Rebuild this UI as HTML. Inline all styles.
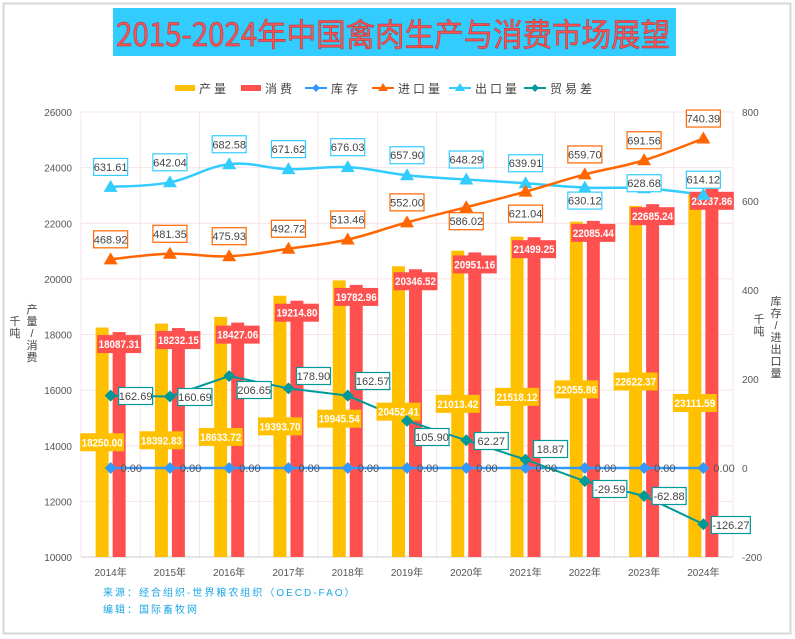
<!DOCTYPE html>
<html><head><meta charset="utf-8"><style>
html,body{margin:0;padding:0;background:#fff;}
svg{display:block;font-family:"Liberation Sans","Noto Sans CJK SC",sans-serif;}
</style></head><body>
<svg id="s" width="795" height="639" viewBox="0 0 795 639" xmlns="http://www.w3.org/2000/svg">
<rect x="3.5" y="3.5" width="787" height="630" fill="#fff" stroke="#d8d8d8" stroke-width="2"/>
<rect x="113" y="8" width="563" height="48" fill="#33ccff"/>
<text x="116" y="46" font-size="32" font-family="Liberation Sans Narrow,'Noto Sans CJK SC',sans-serif" fill="#ff5252" stroke="#b03030" stroke-width="0.5" textLength="554" lengthAdjust="spacingAndGlyphs">2015-2024年中国禽肉生产与消费市场展望</text>
<g id="g"></g>
</svg>
<script>
var g=document.getElementById('g'),h='';
var L=81,R=733,T=112,B=557,cw=(R-L)/11;
function yl(v){return B-(v-10000)*(B-T)/16000;}
function yr(v){return 468-v*0.445;}
function cx(i){return L+cw*(i+0.5);}
for(var k=0;k<=8;k++){var y=B-k*(B-T)/8;h+='<line x1="'+L+'" x2="'+R+'" y1="'+y+'" y2="'+y+'" stroke="#f5e4e8"/>';
h+='<text x="72" y="'+(y+4)+'" font-size="10" fill="#555" text-anchor="end">'+(10000+k*2000)+'</text>';}
for(var k=0;k<=11;k++){var x=L+k*cw;h+='<line x1="'+x+'" x2="'+x+'" y1="'+T+'" y2="'+B+'" stroke="#f5e4e8"/>';}
var rv=[800,600,400,200,0,-200];
rv.forEach(function(v){h+='<text x="742" y="'+(yr(v)+4)+'" font-size="10" fill="#555">'+v+'</text>';});
h+='<line x1="'+L+'" x2="'+R+'" y1="'+B+'" y2="'+B+'" stroke="#ccc"/>';
var P=[18250.00,18392.83,18633.72,19393.70,19945.54,20452.41,21013.42,21518.12,22055.86,22622.37,23111.59];
var C=[18087.31,18232.15,18427.06,19214.80,19782.96,20346.52,20951.16,21499.25,22085.44,22685.24,23237.86];
var E=[631.61,642.04,682.58,671.62,676.03,657.90,648.29,639.91,630.12,628.68,614.12];
var I=[468.92,481.35,475.93,492.72,513.46,552.00,586.02,621.04,659.70,691.56,740.39];
var D=[162.69,160.69,206.65,178.90,162.57,105.90,62.27,18.87,-29.59,-62.88,-126.27];
var Dy=[396,397,390,376,381,437,441,449,489,496,525];
var Eo=[-20,-20,-20,-20,-20,-20,-20,-20,13,-5,-15];
var Io=[-20,-20,-20,-20,-20,-20,14,22,-20,-20,-20];
for(var i=0;i<11;i++){
 var c=cx(i),yp=yl(P[i]),yc=yl(C[i]);
 h+='<rect x="'+(c-15)+'" y="'+yp+'" width="13" height="'+(B-yp)+'" fill="#ffc000"/>';
 h+='<rect x="'+(c+2)+'" y="'+yc+'" width="13" height="'+(B-yc)+'" fill="#ff5050"/>';
 h+='<text x="'+c+'" y="'+(B+19)+'" font-size="10" fill="#555" text-anchor="middle">'+(2014+i)+'年</text>';
}
function smooth(pts){var d='M'+pts[0][0]+','+pts[0][1];for(var i=0;i<pts.length-1;i++){var p0=pts[i-1]||pts[i],p1=pts[i],p2=pts[i+1],p3=pts[i+2]||p2,t=0.2;
d+=' C'+(p1[0]+(p2[0]-p0[0])*t)+','+(p1[1]+(p2[1]-p0[1])*t)+' '+(p2[0]-(p3[0]-p1[0])*t)+','+(p2[1]-(p3[1]-p1[1])*t)+' '+p2[0]+','+p2[1];}return d;}
function pts(a){return a.map(function(v,i){return [cx(i),yr(v)];});}
var pe=pts(E),pi=pts(I),pd=pts(D);
h+='<line x1="'+cx(0)+'" x2="'+cx(10)+'" y1="468" y2="468" stroke="#3399ff" stroke-width="2.5"/>';
h+='<path d="'+smooth(pe)+'" fill="none" stroke="#33ccff" stroke-width="2.5"/>';
h+='<path d="'+smooth(pi)+'" fill="none" stroke="#ff6600" stroke-width="2.5"/>';
h+='<polyline points="'+pd.map(function(p){return p.join(',')}).join(' ')+'" fill="none" stroke="#009999" stroke-width="2"/>';
function tri(x,y,c){return '<path d="M'+x+','+(y-7)+' L'+(x+7)+','+(y+5)+' L'+(x-7)+','+(y+5)+'Z" fill="'+c+'"/>';}
function dia(x,y,c){return '<path d="M'+x+','+(y-6)+' L'+(x+6)+','+y+' L'+x+','+(y+6)+' L'+(x-6)+','+y+'Z" fill="'+c+'"/>';}
function box(x,y,t,stroke,w){w=w||34;return '<rect x="'+(x-w/2)+'" y="'+(y-8.5)+'" width="'+w+'" height="17" fill="#fff" stroke="'+stroke+'" stroke-width="1.2"/><text x="'+x+'" y="'+(y+4)+'" font-size="11" fill="#444" text-anchor="middle">'+t+'</text>';}
function fbox(x,y,t,fill){return '<rect x="'+(x-22)+'" y="'+(y-9)+'" width="44" height="18" fill="'+fill+'"/><text x="'+x+'" y="'+(y+4)+'" font-size="11" font-weight="bold" fill="#fff" text-anchor="middle" textLength="41" lengthAdjust="spacingAndGlyphs">'+t+'</text>';}
for(var i=0;i<11;i++){
 var c=cx(i);
 var yy=(i==10)?403:(yl(P[i])+B)/2;
 h+=fbox(c-8.5,yy,P[i].toFixed(2),'#ffc000');
 h+=fbox(c+8.5,yl(C[i])+12,C[i].toFixed(2),'#ff5050');
}
for(var i=0;i<11;i++){
 var c=cx(i);
 h+=dia(c,468,'#3399ff');
 h+='<text x="'+(c+10)+'" y="472" font-size="11" fill="#555">0.00</text>';
 h+=tri(pe[i][0],pe[i][1],'#33ccff');h+=tri(pi[i][0],pi[i][1],'#ff6600');h+=dia(pd[i][0],pd[i][1],'#009999');
 h+=box(c,pe[i][1]+Eo[i],E[i].toFixed(2),'#33ccff');
 h+=box(c,pi[i][1]+Io[i],I[i].toFixed(2),'#ff6600');
 var t=D[i].toFixed(2),w=t.length>6?39:34;
 h+=box(c+8+w/2,Dy[i],t,'#009999',w);
}
var lg=[['产量','#ffc000','bar',175],['消费','#ff5050','bar',241],['库存','#3399ff','dia',305],['进口量','#ff6600','tri',372],['出口量','#33ccff','tri',449],['贸易差','#009999','dia',524]];
lg.forEach(function(o){var x=o[3],y=88;
 if(o[2]=='bar')h+='<rect x="'+x+'" y="'+(y-3)+'" width="20" height="6" fill="'+o[1]+'"/>';
 else{h+='<line x1="'+x+'" x2="'+(x+22)+'" y1="'+y+'" y2="'+y+'" stroke="'+o[1]+'" stroke-width="2"/>';
 h+=o[2]=='dia'?'<path d="M'+(x+11)+','+(y-4)+' l4,4 l-4,4 l-4,-4z" fill="'+o[1]+'"/>':'<path d="M'+(x+11)+','+(y-5)+' l5,8 l-10,0z" fill="'+o[1]+'"/>';}
 h+='<text x="'+(x+(o[2]=='bar'?24:26))+'" y="'+(y+5)+'" font-size="12" fill="#444" letter-spacing="3">'+o[0]+'</text>';});
function vt(x,y,s,fs){var r='';for(var j=0;j<s.length;j++)r+='<text x="'+x+'" y="'+(y+j*(fs+1))+'" font-size="'+fs+'" fill="#444" text-anchor="middle">'+s[j]+'</text>';return r;}
h+=vt(15,325,'千吨',11);h+=vt(32,313,'产量/消费',11);
h+=vt(759,323,'千吨',11);h+=vt(776,305,'库存/进出口量',11);
h+='<text x="103" y="596" font-size="10" fill="#1aa6e6" letter-spacing="2">来源：经合组织-世界粮农组织（OECD-FAO）</text>';
h+='<text x="103" y="613" font-size="10" fill="#1aa6e6" letter-spacing="2">编辑：国际畜牧网</text>';
g.innerHTML=h;
</script>
</body></html>
